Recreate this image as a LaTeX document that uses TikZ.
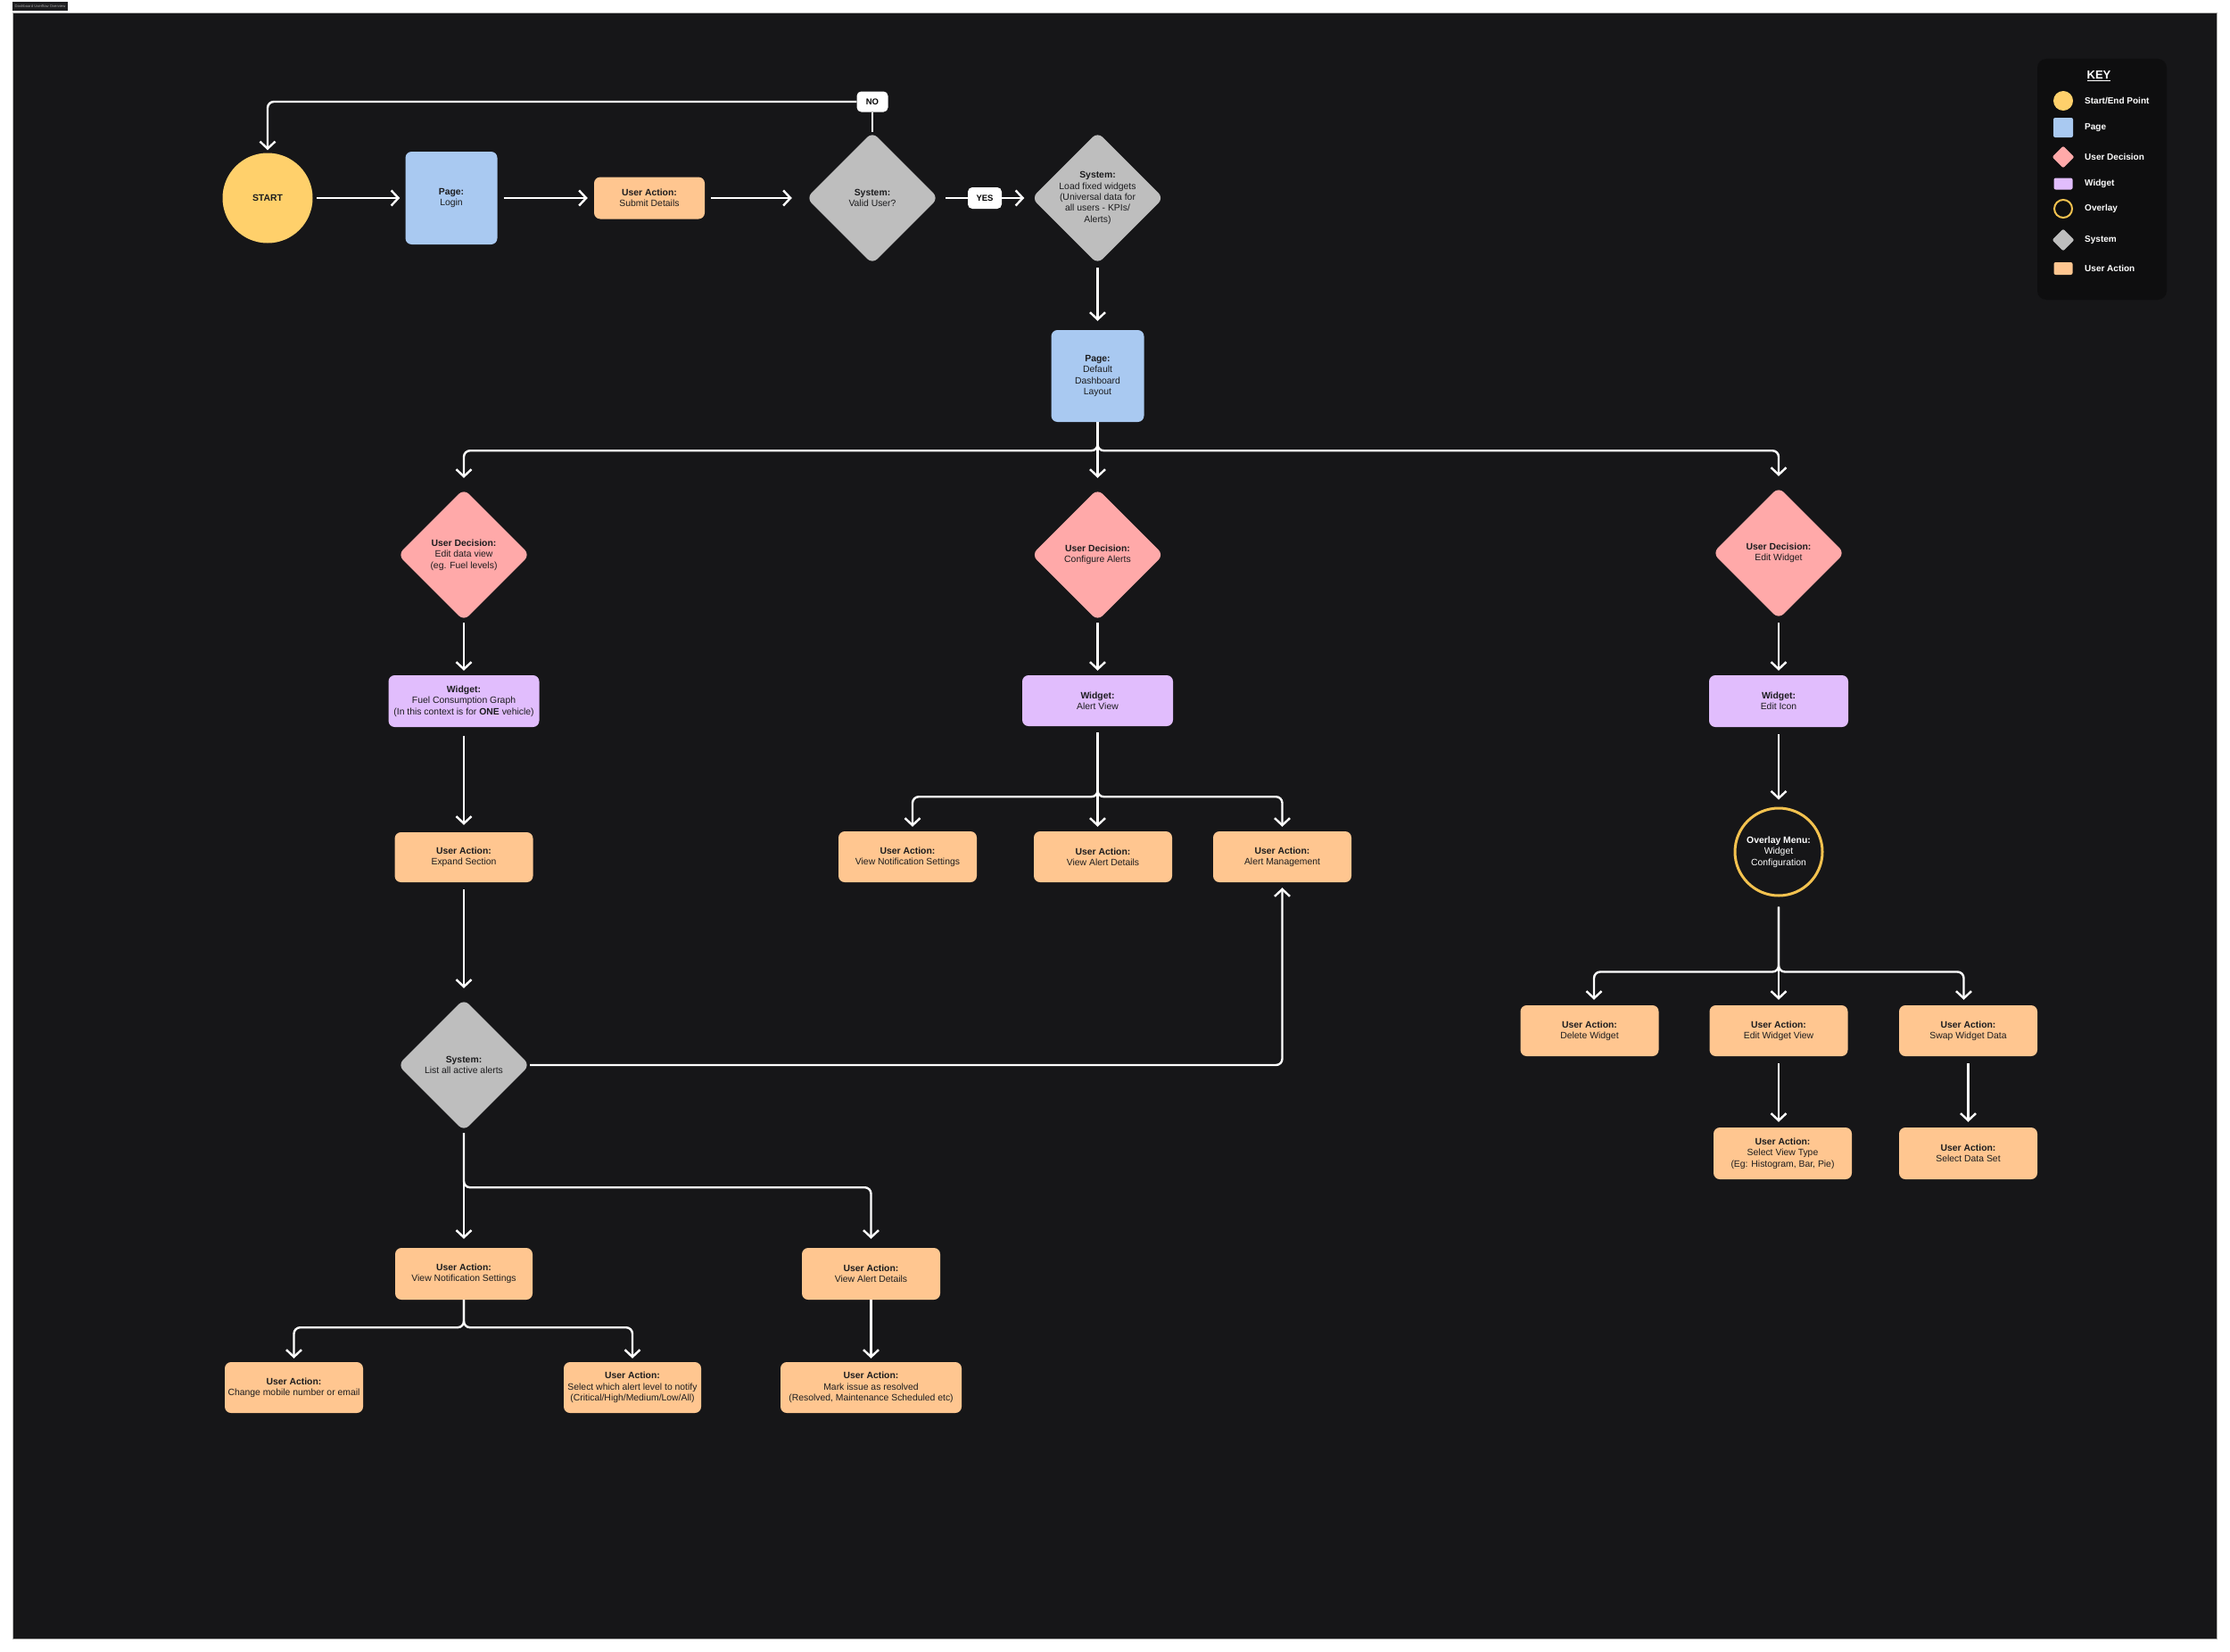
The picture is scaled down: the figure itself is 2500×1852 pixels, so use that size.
\documentclass[tikz,border=0pt]{standalone}
\usepackage{fontspec}
\setmainfont{Liberation Sans}
\usetikzlibrary{shapes.geometric,arrows.meta}
\definecolor{bgdark}{HTML}{161618}
\definecolor{cstart}{HTML}{FFD06B}
\definecolor{cpage}{HTML}{A9C9F1}
\definecolor{cdec}{HTML}{FFA9A9}
\definecolor{cwid}{HTML}{E1BDFD}
\definecolor{csys}{HTML}{BEBEBE}
\definecolor{cact}{HTML}{FFC690}
\definecolor{cring}{HTML}{F3C24F}
\definecolor{ctext}{HTML}{1C1C1E}
\definecolor{ckey}{HTML}{0E0E0F}
\definecolor{ctitle}{HTML}{1E1E20}
\begin{document}
\begin{tikzpicture}[x=1pt,y=-1pt,
  txt/.style={align=center,font=\fontsize{10.4}{12.4}\selectfont,text=ctext,inner sep=0pt},
  box/.style={rectangle,rounded corners=7pt,inner sep=0pt,align=center,font=\fontsize{10.4}{12.4}\selectfont,text=ctext},
  act/.style={box,fill=cact,minimum width=155pt,minimum height=57pt},
  wid/.style={box,fill=cwid,minimum width=169pt,minimum height=58pt},
  pagebox/.style={box,fill=cpage,minimum width=103pt,minimum height=104pt},
  dshape/.style={diamond,aspect=1,minimum width=148pt,minimum height=148pt,inner sep=0pt,rounded corners=8pt},
  sysd/.style={dshape,fill=csys},
  decd/.style={dshape,fill=cdec},
  tag/.style={rectangle,fill=white,rounded corners=5pt,inner sep=0pt,font=\fontsize{9.5}{11}\selectfont\bfseries,text=black,minimum height=24pt},
  link/.style={draw=white,line width=2.4pt,rounded corners=7pt},
  flow/.style={link,-{Straight Barb[length=8pt,width=17pt]}},
  keytxt/.style={anchor=west,inner sep=0pt,text=white,font=\fontsize{10}{12}\selectfont\bfseries}
]
\useasboundingbox (0,0) rectangle (2500,1852);
\fill[white] (0,0) rectangle (2500,1852);
\draw[fill=bgdark,draw=gray!60,line width=0.8pt] (14,14) rectangle (2485,1837);
\node[fill=ctitle,text=gray!70,font=\fontsize{4.2}{5}\selectfont,inner sep=0pt,minimum width=62pt,minimum height=10pt] (title) at (45,7) {Dashboard Userflow Overview};

% ---- top row
\node[circle,fill=cstart,minimum size=101pt,inner sep=0pt,font=\fontsize{10.4}{12}\selectfont\bfseries,text=ctext] (start) at (300,222) {START};
\node[pagebox] (login) at (506,222) {\textbf{Page:}\\Login};
\node[act,minimum width=124pt,minimum height=47pt] (submit) at (728,222) {\textbf{User Action:}\\Submit Details};
\node[sysd] (valid) at (978,222) {};
\node[txt] (validt) at (valid.center) {\textbf{System:}\\Valid User?};
\node[tag,minimum width=38pt] (yes) at (1104,222) {YES};
\node[tag,minimum width=35pt,minimum height=23pt] (no) at (978,114) {NO};
\node[sysd] (load) at (1230.5,222) {};
\node[txt] (loadt) at (load.center) {\textbf{System:}\\Load fixed widgets\\(Universal data for\\all users - KPIs/\\Alerts)};
\node[pagebox,minimum width=104pt,minimum height=103pt] (dash) at (1230.5,421.5) {\textbf{Page:}\\Default\\Dashboard\\Layout};

\draw[flow,shorten <=4pt,shorten >=6pt] (start) -- (login);
\draw[flow,shorten <=7pt,shorten >=7pt] (login) -- (submit);
\draw[flow,shorten <=7pt,shorten >=16pt] (submit) -- (valid);
\draw[link,shorten <=8pt] (valid.east) -- (yes.west);
\draw[flow,shorten >=8pt] (yes.east) -- (load.west);
\draw[link] (valid.north) -- (no.south);
\draw[flow,shorten >=3pt] (no.west) -| (start.north);
\draw[flow,shorten <=4pt,shorten >=10pt] (load.south) -- (dash.north);

% ---- decisions
\node[decd] (dec1) at (520,622) {};
\node[txt] (dec1t) at (dec1.center) {\textbf{User Decision:}\\Edit data view\\(eg. Fuel levels)};
\node[decd] (dec2) at (1230.5,622) {};
\node[txt] (dec2t) at (dec2.center) {\textbf{User Decision:}\\Configure Alerts};
\node[decd] (dec3) at (1994,620) {};
\node[txt] (dec3t) at (dec3.center) {\textbf{User Decision:}\\Edit Widget};

\draw[flow,shorten >=12pt] (dash.south) -- ++(0,32) -| (dec1.north);
\draw[flow,shorten >=12pt] (dash.south) -- (dec2.north);
\draw[flow,shorten >=12pt] (dash.south) -- ++(0,32) -| (dec3.north);

% ---- widgets
\node[wid] (w1) at (520,786) {\textbf{Widget:}\\Fuel Consumption Graph\\(In this context is for \textbf{ONE} vehicle)};
\node[wid,minimum height=57pt] (w2) at (1230.5,785.5) {\textbf{Widget:}\\Alert View};
\node[wid,minimum width=156pt] (w3) at (1994,786) {\textbf{Widget:}\\Edit Icon};

\draw[flow,shorten <=2pt,shorten >=5pt] (dec1.south) -- (w1.north);
\draw[flow,shorten <=2pt,shorten >=5pt] (dec2.south) -- (w2.north);
\draw[flow,shorten <=4pt,shorten >=5pt] (dec3.south) -- (w3.north);

% ---- left column
\node[act,minimum height=56pt] (expand) at (520,961) {\textbf{User Action:}\\Expand Section};
\node[sysd] (list) at (520,1194) {};
\node[txt] (listt) at (list.center) {\textbf{System:}\\List all active alerts};
\node[act,minimum width=154pt,minimum height=58pt] (vns1) at (520,1428) {\textbf{User Action:}\\View Notification Settings};
\node[act,minimum height=58pt] (vad1) at (976.5,1428) {\textbf{User Action:}\\View Alert Details};
\node[act] (chg) at (329.5,1555.5) {\textbf{User Action:}\\Change mobile number or email};
\node[act,minimum width=154pt] (sel) at (709,1555.5) {\textbf{User Action:}\\Select which alert level to notify\\(Critical/High/Medium/Low/All)};
\node[act,minimum width=203pt] (mark) at (976.5,1555.5) {\textbf{User Action:}\\Mark issue as resolved\\(Resolved, Maintenance Scheduled etc)};

\draw[flow,shorten <=10pt,shorten >=8pt] (w1.south) -- (expand.north);
\draw[flow,shorten <=8pt,shorten >=12pt] (expand.south) -- (list.north);
\draw[flow,shorten <=2pt,shorten >=10pt] (list.south) -- (vns1.north);
\draw[flow,shorten <=2pt,shorten >=10pt] (list.south) -- ++(0,63) -| (vad1.north);
\draw[flow,shorten >=4pt] (vns1.south) -- ++(0,31) -| (chg.north);
\draw[flow,shorten >=4pt] (vns1.south) -- ++(0,31) -| (sel.north);
\draw[flow,shorten >=4pt] (vad1.south) -- (mark.north);

% ---- middle column
\node[act] (vns2) at (1017.5,960.5) {\textbf{User Action:}\\View Notification Settings};
\node[act] (vad2) at (1236.5,960.5) {\textbf{User Action:}\\View Alert Details};
\node[act] (mgmt) at (1437.5,960.5) {\textbf{User Action:}\\Alert Management};

\draw[flow,shorten <=7pt,shorten >=5pt] (w2.south) -- ++(0,79) -| ([xshift=5.5pt]vns2.north);
\draw[flow,shorten <=7pt,shorten >=5pt] (w2.south) -- (w2.south |- vad2.north);
\draw[flow,shorten <=7pt,shorten >=5pt] (w2.south) -- ++(0,79) -| (mgmt.north);
\draw[flow,shorten >=6pt] (list.east) -| (mgmt.south);

% ---- right column
\node[circle,draw=cring,line width=3pt,fill=bgdark,minimum size=98pt,inner sep=0pt,align=center,text=white,font=\fontsize{10.4}{12.4}\selectfont] (ovl) at (1994,955) {\textbf{Overlay Menu:}\\Widget\\Configuration};
\node[act] (del) at (1782,1155.5) {\textbf{User Action:}\\Delete Widget};
\node[act] (ewv) at (1994,1155.5) {\textbf{User Action:}\\Edit Widget View};
\node[act] (swap) at (2206.5,1155.5) {\textbf{User Action:}\\Swap Widget Data};
\node[act,minimum height=58pt] (svt) at (1998.5,1293) {\textbf{User Action:}\\Select View Type\\(Eg: Histogram, Bar, Pie)};
\node[act,minimum height=58pt] (sds) at (2206.5,1293) {\textbf{User Action:}\\Select Data Set};

\draw[flow,shorten <=8pt,shorten >=8pt] (w3.south) -- (ovl.north);
\draw[flow,shorten <=11pt,shorten >=6pt] (ovl.south) -- ++(0,84) -| ([xshift=5pt]del.north);
\draw[flow,shorten <=11pt,shorten >=6pt] (ovl.south) -- (ewv.north);
\draw[flow,shorten <=11pt,shorten >=6pt] (ovl.south) -- ++(0,84) -| ([xshift=-5pt]swap.north);
\draw[flow,shorten <=8pt,shorten >=6pt] (ewv.south) -- (ewv.south |- svt.north);
\draw[flow,shorten <=8pt,shorten >=6pt] (swap.south) -- (sds.north);

% ---- key
\node[fill=ckey,rounded corners=10pt,minimum width=145pt,minimum height=270pt,inner sep=0pt] (keybox) at (2356.5,201) {};
\node[text=white,font=\fontsize{13}{15}\selectfont\bfseries,inner sep=0pt] (keyt) at (2353,85) {\underline{KEY}};
\node[circle,fill=cstart,minimum size=22pt,inner sep=0pt] (k1) at (2313,113) {};
\node[keytxt] (k1t) at (2337,113) {Start/End Point};
\node[rectangle,fill=cpage,rounded corners=2pt,minimum size=22pt,inner sep=0pt] (k2) at (2313,143) {};
\node[keytxt] (k2t) at (2337,143) {Page};
\node[diamond,aspect=1,fill=cdec,rounded corners=2pt,minimum size=25pt,inner sep=0pt] (k3) at (2313,176) {};
\node[keytxt] (k3t) at (2337,176) {User Decision};
\node[rectangle,fill=cwid,rounded corners=2pt,minimum width=21pt,minimum height=13pt,inner sep=0pt] (k4) at (2313,206) {};
\node[keytxt] (k4t) at (2337,206) {Widget};
\node[circle,draw=cring,line width=2pt,minimum size=20pt,inner sep=0pt] (k5) at (2313,234) {};
\node[keytxt] (k5t) at (2337,234) {Overlay};
\node[diamond,aspect=1,fill=csys,rounded corners=2pt,minimum size=25pt,inner sep=0pt] (k6) at (2313,269) {};
\node[keytxt] (k6t) at (2337,269) {System};
\node[rectangle,fill=cact,rounded corners=2pt,minimum width=21pt,minimum height=14pt,inner sep=0pt] (k7) at (2313,301) {};
\node[keytxt] (k7t) at (2337,301) {User Action};
\end{tikzpicture}
\end{document}
